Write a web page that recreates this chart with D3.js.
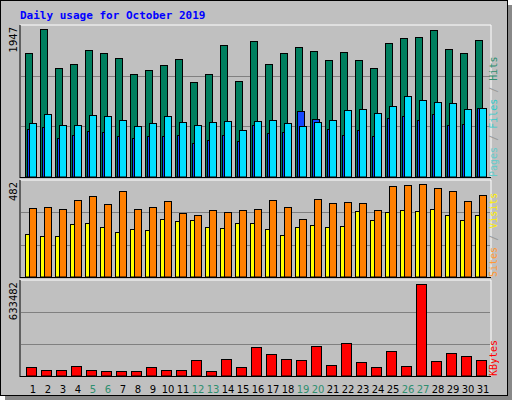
<!DOCTYPE html>
<html><head><meta charset="utf-8">
<script src="https://cdn.jsdelivr.net/npm/d3@7"></script>
<style>body{margin:0;background:#fff}</style>
</head><body>
<div id="chart"></div>
<script>
// values
var days = d3.range(1, 32)
var weekend = [5, 6, 12, 13, 19, 20, 26, 27]
var hits = [1630,1947,1432,1485,1670,1630,1564,1352,1405,1471,1551,1247,1352,1736,1260,1788,1485,1630,1709,1656,1537,1643,1537,1432,1762,1828,1841,1940,1683,1630,1802]
var pages = [626,652,507,559,599,586,533,507,533,533,559,441,493,559,480,678,573,586,863,758,626,559,612,533,771,797,744,824,678,692,903]
var files = [705,824,678,678,810,797,744,665,705,797,718,678,718,731,612,731,744,705,665,718,744,877,890,837,929,1062,1009,982,969,890,903]
var sites = [221,211,211,273,278,258,231,247,242,299,289,294,258,252,278,278,247,216,258,268,258,263,341,294,336,346,341,351,320,294,320]
var visits = [357,362,351,398,419,378,445,351,362,393,331,320,346,336,346,351,398,362,299,404,383,388,383,346,472,477,482,461,445,393,425]
var kbytes = [64700,43900,43900,71700,43900,37000,37000,37000,64700,43900,43900,113300,37000,120200,64700,196500,154900,120200,113300,203500,78600,224300,99400,64700,168800,71700,633482,106400,161800,141000,113300]

var W = 512, H = 400
var svg = d3.select('#chart').append('svg').attr('width', W).attr('height', H)

// frame
svg.append('rect').attr('x', 0).attr('y', 0).attr('width', W).attr('height', H).style('fill', '#fff')
svg.append('rect').attr('x', 5).attr('y', 5).attr('width', W - 5).attr('height', H - 5).style('fill', '#888')
svg.append('rect').attr('x', 0.5).attr('y', 0.5).attr('width', W - 5).attr('height', H - 5)
    .style('fill', '#c0c0c0').style('stroke', '#000')

svg.append('text').attr('x', 20).attr('y', 19).text('Daily usage for October 2019')
    .style('font-family', 'DejaVu Sans Mono').style('font-weight', 'bold').style('font-size', '11px').style('fill', '#0000ff')

var x = d3.scaleBand().domain(days).range([24, 489]).paddingInner(0)

var panels = [
    {top: 25, bottom: 177, max: 1947, label: '1947', legend: [['Pages', '#66cccc'], [' / ', '#999'], ['Files', '#33cccc'], [' / ', '#999'], ['Hits', '#2f8f6f']]},
    {top: 180, bottom: 277, max: 482, label: '482', legend: [['Sites', '#ff9933'], [' / ', '#999'], ['Visits', '#ffee00']]},
    {top: 280, bottom: 376, max: 633482, label: '633482', legend: [['KBytes', '#ff0000']]}
]

panels.forEach(function(p) {
    p.y = d3.scaleLinear().domain([0, p.max]).range([p.bottom, p.top + 4])
    var g = svg.append('g')
    g.append('line').attr('x1', 20).attr('x2', 491).attr('y1', p.top).attr('y2', p.top).style('stroke', '#fff')
    g.append('line').attr('x1', 491).attr('x2', 491).attr('y1', p.top).attr('y2', p.bottom).style('stroke', '#fff')
    g.append('line').attr('x1', 20).attr('x2', 20).attr('y1', p.top).attr('y2', p.bottom + 1).style('stroke', '#000')
    g.append('line').attr('x1', 20).attr('x2', 491).attr('y1', p.bottom + 0.5).attr('y2', p.bottom + 0.5).style('stroke', '#000')
    var h = p.bottom - p.top
    ;[1, 2].forEach(function(k) {
        var yy = Math.round(p.top + h * k / 3) + 0.5
        g.append('line').attr('x1', 21).attr('x2', 490).attr('y1', yy).attr('y2', yy).style('stroke', '#808080')
    })
    g.append('text').attr('transform', 'translate(17,' + (p.top + 2) + ') rotate(-90)')
        .attr('text-anchor', 'end').text(p.label)
        .style('font-family', 'DejaVu Sans').style('font-size', '10px').style('fill', '#000')
    var t = g.append('text').attr('transform', 'translate(497,' + p.bottom + ') rotate(-90)')
        .style('font-family', 'DejaVu Sans Mono').style('font-size', '10px')
    p.legend.forEach(function(l) { t.append('tspan').text(l[0]).style('fill', l[1]) })
})

function bars(data, p, off, w, fill) {
    svg.append('g').selectAll('rect').data(data).enter().append('rect')
        .attr('x', (d, i) => x(days[i]) + off + 0.5)
        .attr('y', d => Math.round(p.y(d)) + 0.5)
        .attr('width', w)
        .attr('height', d => p.bottom - Math.round(p.y(d)) - 0.5)
        .style('fill', fill).style('stroke', '#000')
}

bars(hits, panels[0], 1, 7, '#007f5f')
bars(pages, panels[0], 3, 7, '#1446ff')
bars(files, panels[0], 5, 7, '#00e0ff')
bars(sites, panels[1], 1, 7, '#ffff00')
bars(visits, panels[1], 5, 7, '#ff8000')
bars(kbytes, panels[2], 2, 10, '#ff0000')

svg.append('g').selectAll('text').data(days).enter().append('text')
    .attr('x', d => x(d) + 9).attr('y', 393).attr('text-anchor', 'middle')
    .text(d => d)
    .style('font-family', 'DejaVu Sans').style('font-size', '10px')
    .style('fill', d => weekend.indexOf(d) >= 0 ? '#2f8f6f' : '#000')
</script>
</body></html>
